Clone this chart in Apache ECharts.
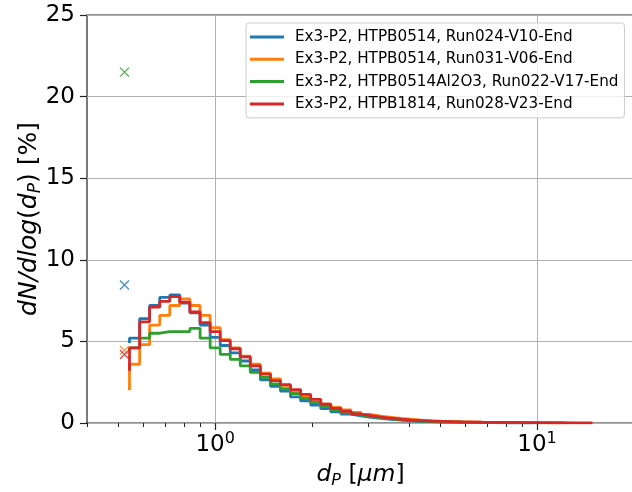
<!DOCTYPE html>
<html>
<head>
<meta charset="utf-8">
<script src="https://cdn.jsdelivr.net/npm/echarts@6/dist/echarts.min.js"></script>
<style>html,body{margin:0;padding:0;background:#fff}#c{width:632px;height:492px}</style>
</head>
<body>
<div id="c"></div>
<script>
// Particle diameters (channel midpoints, um)
const diameters = [0.542,0.583,0.626,0.673,0.723,0.777,0.835,0.898,0.965,1.037,1.114,1.197,1.286,1.382,1.486,1.596,1.715,1.843,1.981,2.129,2.288,2.458,2.642,2.839,3.051,3.278,3.523,3.786,4.068,4.371,4.698,5.048,5.425,5.829,6.264,6.732,7.234,7.774,8.354,8.977,9.647,10.37,11.14,11.97,12.86,13.82,14.86];

const seriesNames = [
  'Ex3-P2, HTPB0514, Run024-V10-End',
  'Ex3-P2, HTPB0514, Run031-V06-End',
  'Ex3-P2, HTPB0514Al2O3, Run022-V17-End',
  'Ex3-P2, HTPB1814, Run028-V23-End'
];

const run024Values = [4.9,5.2,6.4,7.2,7.7,7.85,7.35,6.75,6.0,5.25,4.75,4.3,3.8,3.25,2.65,2.25,1.95,1.6,1.35,1.1,0.88,0.68,0.55,0.44,0.35,0.28,0.22,0.17,0.13,0.1,0.08,0.06,0.05,0.04,0.03,0.025,0.02,0.015,0.01,0.01,0.01,0.005];
const run031Values = [2.0,3.6,4.8,6.0,6.6,7.2,7.6,7.2,6.6,5.85,5.1,4.6,4.1,3.6,3.05,2.7,2.3,1.9,1.6,1.3,1.15,0.95,0.8,0.65,0.52,0.42,0.35,0.28,0.23,0.18,0.15,0.12,0.1,0.08,0.065,0.05,0.04,0.035,0.03,0.025,0.02,0.015,0.01,0.01];
const run022Values = [4.4,4.6,5.2,5.5,5.6,5.6,5.6,5.8,5.2,4.6,4.2,3.9,3.5,3.1,2.8,2.4,2.1,1.8,1.5,1.25,1.0,0.8,0.62,0.5,0.4,0.32,0.25,0.2,0.15,0.12,0.1,0.08,0.06,0.05,0.04,0.03,0.025,0.02,0.015,0.01,0.01];
const run028Values = [3.2,4.6,6.2,7.1,7.45,7.75,7.4,6.8,6.15,5.6,5.05,4.55,4.05,3.5,3.0,2.6,2.35,2.05,1.75,1.45,1.15,0.9,0.72,0.55,0.45,0.36,0.29,0.23,0.18,0.15,0.12,0.1,0.08,0.065,0.055,0.045,0.04,0.035,0.03,0.025,0.02,0.02,0.015,0.015,0.01,0.01,0.01];

// Values of the smallest (below-range) channel, drawn as crosses
const markerDiameter = [0.523];
const markerValues = [8.45, 4.45, 21.5, 4.2];

const majorXTicks = [1, 10];
const minorXTicks = [0.4,0.5,0.6,0.7,0.8,0.9,2,3,4,5,6,7,8,9];
const colors = ['#1f77b4','#ff7f0e','#2ca02c','#d62728'];

const allValues = [run024Values, run031Values, run022Values, run028Values];
const F = 'DejaVu Sans';

const lineSeries = seriesNames.map((n, k) => ({
  name: n,
  type: 'line',
  step: 'start',
  data: allValues[k].map((v, i) => [diameters[i], v]),
  showSymbol: false,
  symbol: 'none',
  lineStyle: { color: colors[k], width: 2.8 },
  itemStyle: { color: colors[k] },
  z: 2,
  animation: false
}));
const markerSeries = seriesNames.map((n, k) => ({
  name: n + ' (<0.523)',
  type: 'scatter',
  data: [[markerDiameter[0], markerValues[k]]],
  symbol: 'path://M0,0L10,10M10,0L0,10',
  symbolSize: 9,
  itemStyle: { color: 'rgba(0,0,0,0)', borderColor: colors[k], borderWidth: 1.4 },
  z: 3,
  animation: false
}));

const chart = echarts.init(document.getElementById('c'), null, { renderer: 'canvas' });
chart.setOption({
  animation: false,
  backgroundColor: '#fff',
  grid: {
    left: 87, right: -2, top: 15, bottom: 69,
    show: true, borderColor: '#222', borderWidth: 1.2, backgroundColor: '#fff',
    containLabel: false, outerBoundsMode: 'none'
  },
  legend: {
    data: seriesNames,
    orient: 'vertical',
    left: 246, top: 23,
    icon: 'rect', itemWidth: 34, itemHeight: 3, itemGap: 6.3,
    padding: [6, 6, 6, 4],
    backgroundColor: 'rgba(255,255,255,0.8)',
    borderColor: '#ccc', borderWidth: 1, borderRadius: 3,
    textStyle: { fontFamily: F, fontSize: 15.2, color: '#000', lineHeight: 16, padding: [0, 0, 0, 6] },
    selectedMode: false,
    z: 10
  },
  xAxis: [{
    type: 'log', logBase: 10, min: 0.4, max: 20, gridIndex: 0,
    axisLine: { show: false },
    axisTick: { show: true, customValues: majorXTicks, length: 7, lineStyle: { color: '#222', width: 1.2 } },
    axisLabel: {
      customValues: majorXTicks,
      margin: 8,
      formatter: v => {
        const e = Math.log10(v);
        if (Math.abs(e - Math.round(e)) > 1e-6) return '';
        return '{b|10}{s|' + Math.round(e) + '}';
      },
      rich: {
        b: { fontFamily: F, fontSize: 23, lineHeight: 28, color: '#000' },
        s: { fontFamily: F, fontSize: 16, lineHeight: 16, verticalAlign: 'top', color: '#000' }
      }
    },
    splitLine: { show: true, lineStyle: { color: '#b0b0b0', width: 1 } },
    name: '{i|d}{s|P}{n| [}{i|μm}{n|]}',
    nameLocation: 'middle',
    nameGap: 38,
    nameMoveOverlap: false,
    nameTextStyle: {
      fontFamily: F, fontSize: 23.5, color: '#000',
      rich: {
        i: { fontFamily: F, fontStyle: 'italic', fontSize: 23.5, lineHeight: 28, color: '#000' },
        n: { fontFamily: F, fontSize: 23.5, lineHeight: 28, color: '#000' },
        s: { fontFamily: F, fontStyle: 'italic', fontSize: 16, lineHeight: 14, verticalAlign: 'bottom', color: '#000' }
      }
    }
  }, {
    type: 'log', logBase: 10, min: 0.4, max: 20, gridIndex: 0, position: 'bottom',
    axisLine: { show: false },
    axisLabel: { show: false },
    splitLine: { show: false },
    axisTick: { show: true, customValues: minorXTicks, length: 4, lineStyle: { color: '#222', width: 1 } }
  }],
  yAxis: {
    type: 'value', min: 0, max: 25, interval: 5,
    axisLine: { show: false },
    axisTick: { show: true, length: 7, lineStyle: { color: '#222', width: 1.2 } },
    axisLabel: { fontFamily: F, fontSize: 23, color: '#000', margin: 12 },
    splitLine: { show: true, lineStyle: { color: '#b0b0b0', width: 1 } },
    name: '{i|dN/dlog}{n|(}{i|d}{s|P}{n|) [%]}',
    nameLocation: 'middle',
    nameGap: 43,
    nameMoveOverlap: false,
    nameRotate: 90,
    nameTextStyle: {
      fontFamily: F, fontSize: 25, color: '#000',
      rich: {
        i: { fontFamily: F, fontStyle: 'italic', fontSize: 25, lineHeight: 30, color: '#000' },
        n: { fontFamily: F, fontSize: 25, lineHeight: 30, color: '#000' },
        s: { fontFamily: F, fontStyle: 'italic', fontSize: 17, lineHeight: 15, verticalAlign: 'bottom', color: '#000' }
      }
    }
  },
  series: lineSeries.concat(markerSeries)
});
</script>
</body>
</html>
